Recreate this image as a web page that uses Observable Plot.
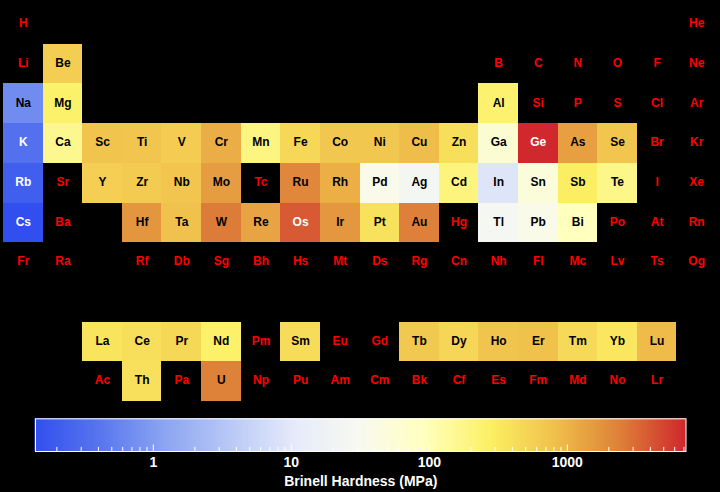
<!DOCTYPE html>
<html><head><meta charset="utf-8">
<script src="https://cdn.jsdelivr.net/npm/d3@7"></script>
<script src="https://cdn.jsdelivr.net/npm/@observablehq/plot@0.6"></script>
<style>
html,body{margin:0;padding:0;background:#000;}
#chart{width:720px;height:492px;background:#000;overflow:hidden;}
#chart svg{display:block;}
</style></head><body><div id="chart"></div>
<script>
// Element symbols in order of atomic number (1..118)
const symbols = ["H","He","Li","Be","B","C","N","O","F","Ne","Na","Mg","Al","Si","P","S","Cl","Ar",
"K","Ca","Sc","Ti","V","Cr","Mn","Fe","Co","Ni","Cu","Zn","Ga","Ge","As","Se","Br","Kr",
"Rb","Sr","Y","Zr","Nb","Mo","Tc","Ru","Rh","Pd","Ag","Cd","In","Sn","Sb","Te","I","Xe",
"Cs","Ba","La","Ce","Pr","Nd","Pm","Sm","Eu","Gd","Tb","Dy","Ho","Er","Tm","Yb","Lu",
"Hf","Ta","W","Re","Os","Ir","Pt","Au","Hg","Tl","Pb","Bi","Po","At","Rn",
"Fr","Ra","Ac","Th","Pa","U","Np","Pu","Am","Cm","Bk","Cf","Es","Fm","Md","No","Lr",
"Rf","Db","Sg","Bh","Hs","Mt","Ds","Rg","Cn","Nh","Fl","Mc","Lv","Ts","Og"];

// Elements with a known Brinell hardness, and their values (MPa)
const measuredSymbols = ["Be","Na","Mg","Al","K","Ca","Sc","Ti","V","Cr","Mn","Fe","Co","Ni","Cu","Zn","Ga","Ge","As","Se",
"Rb","Y","Zr","Nb","Mo","Ru","Rh","Pd","Ag","Cd","In","Sn","Sb","Te",
"Cs","Hf","Ta","W","Re","Os","Ir","Pt","Au","Tl","Pb","Bi",
"La","Ce","Pr","Nd","Sm","Tb","Dy","Ho","Er","Tm","Yb","Lu","Th","U"];
const hardnessMPa = [600,0.69,260,245,0.363,167,750,716,628,1120,196,490,700,700,874,412,60,7250,1440,736,
0.216,589,650,736,1500,2160,1100,37.3,24.5,203,8.83,51,294,180,
0.14,1700,800,2570,1320,3920,1670,392,2450,26.4,38.3,94.2,
363,412,481,265,441,677,500,746,814,471,343,893,400,2400];

const legendTicks = [1, 10, 100, 1000];
const legendTitle = "Brinell Hardness (MPa)";

// --- derived tables ---
const hardnessBySymbol = new Map(measuredSymbols.map((s, i) => [s, hardnessMPa[i]]));
function place(z) {
  if (z === 1) return [1, 1];
  if (z === 2) return [18, 1];
  if (z <= 4) return [z - 2, 2];
  if (z <= 10) return [z + 8, 2];
  if (z <= 12) return [z - 10, 3];
  if (z <= 18) return [z, 3];
  if (z <= 36) return [z - 18, 4];
  if (z <= 54) return [z - 36, 5];
  if (z <= 56) return [z - 54, 6];
  if (z <= 71) return [z - 54, 9];
  if (z <= 86) return [z - 68, 6];
  if (z <= 88) return [z - 86, 7];
  if (z <= 103) return [z - 86, 10];
  return [z - 100, 7];
}
const elements = symbols.map((sym, i) => {
  const [col, row] = place(i + 1);
  const h = hardnessBySymbol.has(sym) ? hardnessBySymbol.get(sym) : null;
  return {sym, col, row, h};
});

const stops = ["#304fee","#5876ee","#8ca5f2","#b9c8f6","#e6ebfa","#f8f9f0","#ffffbe","#fcf064","#f0c04b","#de8039","#d0282d"];
const colorScale = {
  type: "log",
  domain: [d3.min(hardnessMPa), d3.max(hardnessMPa)],
  interpolate: d3.piecewise(d3.interpolateRgb, stops)
};
const font = "'Liberation Sans', Arial, Helvetica, sans-serif";

const measured = elements.filter(d => d.h != null);
const missing = elements.filter(d => d.h == null);
const darkCell = d => d.h < 0.5 || d.h > 3000;

const main = Plot.plot({
  width: 720, height: 410,
  marginLeft: 3, marginRight: 4, marginTop: 4, marginBottom: 9,
  style: {background: "#000", fontFamily: font},
  x: {domain: [0.5, 18.5], axis: null},
  y: {domain: [0.5, 10.5], reverse: true, axis: null},
  color: colorScale,
  marks: [
    Plot.rect(measured, {x1: d => d.col - 0.5, x2: d => d.col + 0.5, y1: d => d.row - 0.5, y2: d => d.row + 0.5,
      fill: "h", shapeRendering: "crispEdges"}),
    Plot.text(measured.filter(d => !darkCell(d)), {x: "col", y: "row", text: "sym", fill: "black", fontSize: 12, fontWeight: "bold", dy: -1}),
    Plot.text(measured.filter(darkCell), {x: "col", y: "row", text: "sym", fill: "white", fontSize: 12, fontWeight: "bold", dy: -1}),
    Plot.text(missing, {x: "col", y: "row", text: "sym", fill: "red", fontSize: 12, fontWeight: "bold", dy: -1})
  ]
});

const [lo, hi] = colorScale.domain;
const N = 325;
const slices = d3.range(N).map(i => {
  const a = lo * Math.pow(hi / lo, i / N), b = lo * Math.pow(hi / lo, (i + 1) / N);
  return {a, b, m: Math.sqrt(a * b)};
});
const minorTicks = [];
for (let k = -1; k <= 3; k++) for (let m = 2; m <= 9; m++) {
  const v = m * Math.pow(10, k);
  if (v >= lo && v <= hi) minorTicks.push(v);
}

const legend = Plot.plot({
  width: 720, height: 82,
  marginLeft: 35, marginRight: 34.5, marginTop: 8.3, marginBottom: 41,
  style: {background: "#000", fontFamily: font, overflow: "visible"},
  x: {type: "log", domain: [lo, hi], axis: null},
  y: {domain: [0, 1], axis: null},
  color: colorScale,
  marks: [
    Plot.rect(slices, {x1: "a", x2: "b", y1: 0, y2: 1, fill: "m", insetLeft: -0.6, insetRight: -0.6}),
    Plot.ruleX(minorTicks, {x: d => d, y1: 0, y2: 0.125, stroke: "white", strokeWidth: 1}),
    Plot.ruleX(legendTicks, {x: d => d, y1: 0, y2: 0.2, stroke: "white", strokeWidth: 1}),
    Plot.frame({stroke: "white", strokeWidth: 1}),
    Plot.text(legendTicks, {x: d => d, frameAnchor: "bottom", lineAnchor: "middle", dy: 11, text: d => String(d),
      fill: "white", fontSize: 14, fontWeight: "bold"}),
    Plot.text([legendTitle], {frameAnchor: "bottom", lineAnchor: "middle", dy: 30, text: d => d,
      fill: "white", fontSize: 14, fontWeight: "bold"})
  ]
});

const root = document.getElementById("chart");
root.appendChild(main);
root.appendChild(legend);
</script></body></html>
